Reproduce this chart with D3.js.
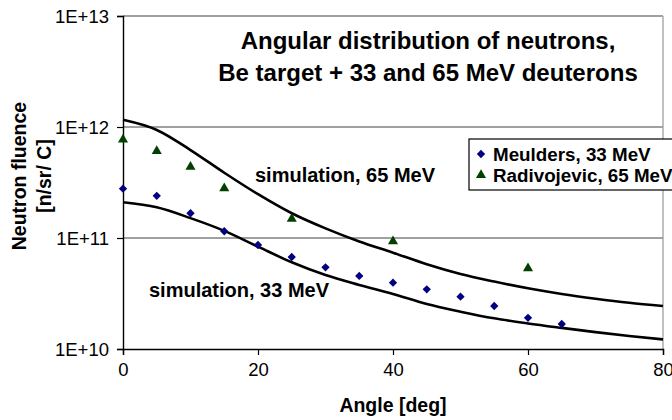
<!DOCTYPE html>
<html>
<head>
<meta charset="utf-8">
<script src="https://cdn.jsdelivr.net/npm/d3@7"></script>
<style>
  html, body { margin: 0; padding: 0; background: #fff; }
  svg { display: block; font-family: Arial, "Liberation Sans", sans-serif; }
</style>
</head>
<body>
<svg id="chart" width="672" height="420"></svg>
<script>
// Measured angles (deg) and neutron fluence values
const meuldersAngle = [0, 5, 10, 15, 20, 25, 30, 35, 40, 45, 50, 55, 60, 65];
const meuldersFluence = [2.78e11, 2.40e11, 1.67e11, 1.15e11, 8.65e10, 6.74e10, 5.44e10,
                         4.55e10, 3.96e10, 3.45e10, 2.96e10, 2.44e10, 1.91e10, 1.68e10];

const radivAngle = [0, 5, 10, 15, 25, 40, 60];
const radivFluence = [7.7e11, 6.08e11, 4.37e11, 2.80e11, 1.49e11, 9.33e10, 5.33e10];

// Simulated curves
const simAngle = [0, 5, 10, 15, 20, 25, 30, 35, 40, 45, 50, 55, 60, 65, 70, 75, 80];
const sim65 = [1.16e12, 9.4e11, 6.2e11, 3.87e11, 2.48e11, 1.67e11, 1.22e11, 9.3e10, 7.38e10,
               5.8e10, 4.74e10, 4.05e10, 3.52e10, 3.13e10, 2.84e10, 2.61e10, 2.44e10];
const sim33 = [2.10e11, 1.89e11, 1.51e11, 1.16e11, 8.36e10, 6.04e10, 4.64e10, 3.78e10, 3.13e10,
               2.54e10, 2.17e10, 1.89e10, 1.70e10, 1.55e10, 1.42e10, 1.31e10, 1.22e10];

const xTicks = [0, 20, 40, 60, 80];
const yTicks = [1e10, 1e11, 1e12, 1e13];
const yTickLabels = ["1E+10", "1E+11", "1E+12", "1E+13"];

const titleLines = ["Angular distribution of neutrons,", "Be target + 33 and 65 MeV deuterons"];
const legendLabels = ["Meulders, 33 MeV", "Radivojevic, 65 MeV"];

const svg = d3.select("#chart");
const plot = { left: 123, right: 663, top: 16, bottom: 349 };

const x = d3.scaleLinear().domain([0, 80]).range([plot.left, plot.right]);
const y = d3.scaleLog().domain([1e10, 1e13]).range([plot.bottom, plot.top]);

// Gridlines and right border
svg.append("g").selectAll("line").data(yTicks.slice(1)).join("line")
  .attr("x1", plot.left).attr("x2", plot.right)
  .attr("y1", d => y(d)).attr("y2", d => y(d))
  .attr("stroke", "#808080").attr("stroke-width", 1.3);
svg.append("line")
  .attr("x1", plot.right).attr("x2", plot.right)
  .attr("y1", plot.top).attr("y2", plot.bottom)
  .attr("stroke", "#a0a0a0").attr("stroke-width", 1.3);

// Axes
const yAxis = d3.axisLeft(y).tickValues(yTicks)
  .tickFormat((d, i) => yTickLabels[i]).tickSize(6).tickPadding(8);
const gy = svg.append("g").attr("transform", `translate(${plot.left},0)`).call(yAxis);
const xAxis = d3.axisBottom(x).tickValues(xTicks).tickSize(6).tickPadding(8);
const gx = svg.append("g").attr("transform", `translate(0,${plot.bottom})`).call(xAxis);
[gx, gy].forEach(g => {
  g.select(".domain").attr("stroke", "#000").attr("stroke-width", 1.4);
  g.selectAll(".tick line").attr("stroke", "#000").attr("stroke-width", 1.2);
  g.selectAll(".tick text").attr("fill", "#000").style("font-size", "18.5px")
    .style("font-family", "Arial, 'Liberation Sans', sans-serif");
});
gy.selectAll(".tick text").attr("dy", "0.35em");

// Simulation curves
const line = d3.line().curve(d3.curveMonotoneX)
  .x((d, i) => x(simAngle[i])).y(d => y(d));
[sim65, sim33].forEach(s => {
  svg.append("path").datum(s).attr("d", line)
    .attr("fill", "none").attr("stroke", "#000").attr("stroke-width", 2.6);
});

// Data markers
const diamond = d3.symbol().type(d3.symbolDiamond2).size(44);
const triangle = d3.symbol().type(d3.symbolTriangle).size(44);
svg.append("g").selectAll("path").data(meuldersFluence).join("path")
  .attr("d", diamond)
  .attr("transform", (d, i) => `translate(${x(meuldersAngle[i])},${y(d)})`)
  .attr("fill", "#000080");
svg.append("g").selectAll("path").data(radivFluence).join("path")
  .attr("d", triangle)
  .attr("transform", (d, i) => `translate(${x(radivAngle[i])},${y(d)})`)
  .attr("fill", "#004000");

// Curve annotations
svg.append("text").attr("x", 255).attr("y", 182)
  .style("font-size", "20px").style("font-weight", "bold")
  .text("simulation, 65 MeV");
svg.append("text").attr("x", 149).attr("y", 297)
  .style("font-size", "20px").style("font-weight", "bold")
  .text("simulation, 33 MeV");

// Title
svg.append("text").attr("y", 49)
  .attr("text-anchor", "middle").style("font-size", "24px").style("font-weight", "bold")
  .selectAll("tspan").data(titleLines).join("tspan")
  .attr("x", 428).attr("dy", (d, i) => i === 0 ? 0 : 32).text(d => d);

// Axis titles
svg.append("text").attr("x", 393).attr("y", 412)
  .attr("text-anchor", "middle").style("font-size", "19.5px").style("font-weight", "bold")
  .text("Angle [deg]");
const yTitle = svg.append("text")
  .attr("transform", "translate(26,176) rotate(-90)")
  .attr("text-anchor", "middle").style("font-size", "19.5px").style("font-weight", "bold");
yTitle.append("tspan").attr("x", 0).attr("dy", 0).text("Neutron fluence");
yTitle.append("tspan").attr("x", 0).attr("dy", 25).text("[n/sr/ C]");

// Legend
const lg = svg.append("g").attr("transform", "translate(469,139)");
lg.append("rect").attr("width", 230).attr("height", 51)
  .attr("fill", "#fff").attr("stroke", "#000").attr("stroke-width", 1.2);
const shapes = [diamond, triangle];
const colors = ["#000080", "#004000"];
legendLabels.forEach((t, i) => {
  const cy = 15 + i * 21;
  lg.append("path").attr("d", shapes[i])
    .attr("transform", `translate(12,${cy})`).attr("fill", colors[i]);
  lg.append("text").attr("x", 24).attr("y", cy).attr("dy", "0.35em")
    .style("font-size", "18.8px").style("font-weight", "bold").text(t);
});
</script>
</body>
</html>
